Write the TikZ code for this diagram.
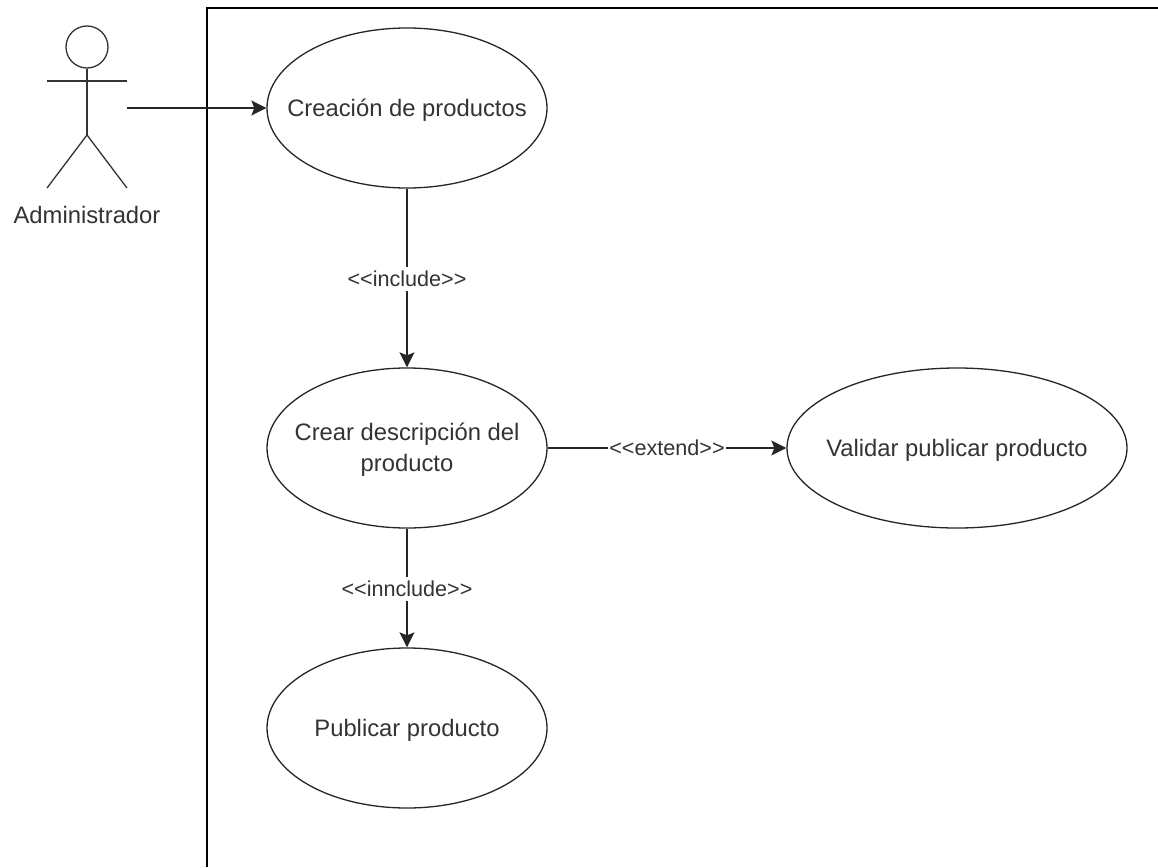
\documentclass[tikz,border=0pt]{standalone}
\usepackage{fontspec}
\setmainfont{Liberation Sans}
\usetikzlibrary{shapes.geometric,arrows.meta}
\newcommand{\ucText}[1]{\raisebox{-2pt}[\height][\depth]{\makebox[0pt]{\begin{tabular}{@{}c@{}}#1\end{tabular}}}}
\tikzset{
  x=1pt,y=-1pt,
  usecase/.style={draw=black!85,line width=1.3pt,ellipse,minimum width=280pt,minimum height=160pt,inner sep=0pt,align=center,font=\fontsize{23.8}{31}\selectfont,text=black!80},
  conn/.style={draw=black!85,line width=1.5pt,-{Stealth[length=15pt,width=15pt,inset=3pt]}},
  stereo/.style={fill=white,inner xsep=1pt,inner ysep=4pt,yshift=-1pt,font=\fontsize{21.6}{24}\selectfont,text=black!80},
  stick/.style={draw=black!80,line width=1.3pt},
}
\begin{document}
\begin{tikzpicture}
\useasboundingbox (0,0) rectangle (1158,867);
\fill[white] (0,0) rectangle (1158,867);
\draw[black,line width=1.5pt] (207,867) -- (207,8) -- (1158,8);
% actor
\node[circle,stick,minimum size=42pt,inner sep=0pt] (head) at (87,47) {};
\coordinate (hip) at (87,135);
\coordinate (armL) at (47,81);
\coordinate (armR) at (127,81);
\coordinate (legL) at (47,188);
\coordinate (legR) at (127,188);
\draw[stick] (head.south) -- (hip);
\draw[stick] (armL) -- (armR);
\draw[stick] (legL) -- (hip) -- (legR);
\node[font=\fontsize{23.8}{28}\selectfont,text=black!80,inner sep=0pt] (actor) at (87,215) {Administrador};
\coordinate (actorOut) at (127,108);
% use cases
\node[usecase] (u1) at (407,108) {\ucText{Creación de productos}};
\node[usecase] (u2) at (407,448) {\ucText{Crear descripción del\\producto}};
\node[usecase] (u3) at (407,728) {\ucText{Publicar producto}};
\node[usecase,minimum width=340pt] (u4) at (957,448) {\ucText{Validar publicar producto}};
% connectors
\draw[conn] (actorOut) -- (u1.west);
\draw[conn] (u1.south) -- node[stereo,pos=0.5] {<{}<include>{}>} (u2.north);
\draw[conn] (u2.east) -- node[stereo,pos=0.5,yshift=1pt] {<{}<extend>{}>} (u4.west);
\draw[conn] (u2.south) -- node[stereo,pos=0.5] {<{}<innclude>{}>} (u3.north);
\end{tikzpicture}
\end{document}
